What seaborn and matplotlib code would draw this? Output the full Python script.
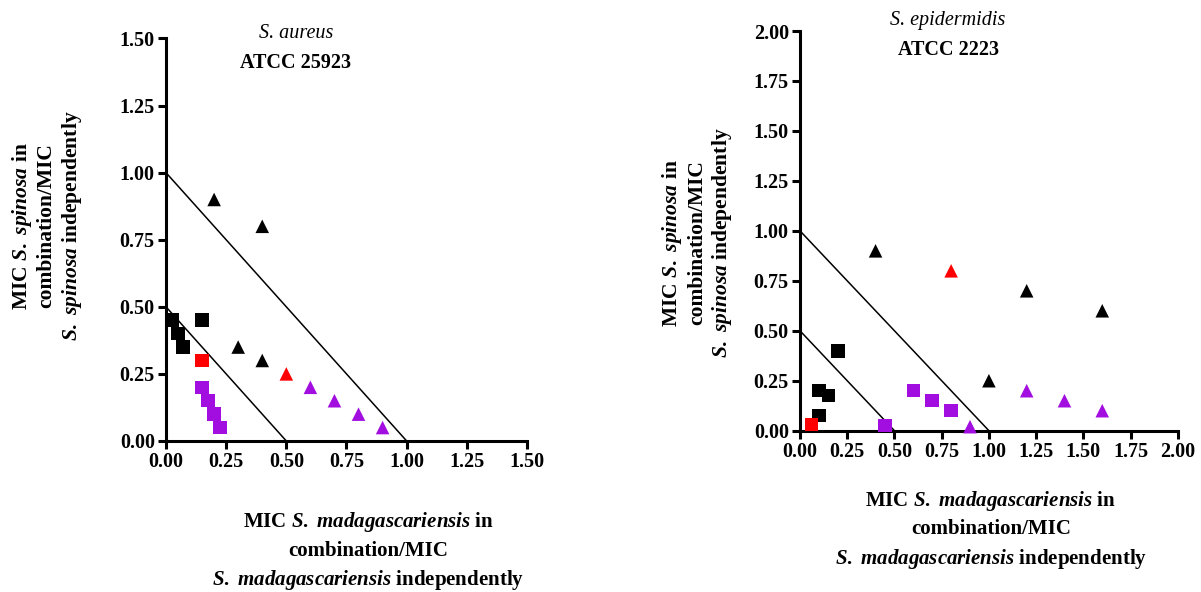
import matplotlib
matplotlib.use("Agg")
import matplotlib.pyplot as plt
import seaborn as sns
import pandas as pd

# ---------------- data ----------------
# S. aureus ATCC 25923
a_x = [0.20, 0.40, 0.30, 0.40, 0.50, 0.60, 0.70, 0.80, 0.90,
       0.025, 0.05, 0.07, 0.15, 0.15, 0.15, 0.175, 0.20, 0.225]
a_y = [0.90, 0.80, 0.35, 0.30, 0.25, 0.20, 0.15, 0.10, 0.05,
       0.45, 0.40, 0.35, 0.45, 0.30, 0.20, 0.15, 0.10, 0.05]
a_group = ["black", "black", "black", "black", "red", "purple", "purple", "purple", "purple",
           "black", "black", "black", "black", "red", "purple", "purple", "purple", "purple"]
a_shape = ["triangle"] * 9 + ["square"] * 9

# S. epidermidis ATCC 2223
e_x = [0.40, 1.20, 1.60, 1.00, 0.80, 1.20, 1.40, 1.60, 0.90,
       0.20, 0.10, 0.15, 0.10, 0.06, 0.60, 0.70, 0.80, 0.45]
e_y = [0.90, 0.70, 0.60, 0.25, 0.80, 0.20, 0.15, 0.10, 0.02,
       0.40, 0.20, 0.175, 0.075, 0.03, 0.20, 0.15, 0.10, 0.025]
e_group = ["black", "black", "black", "black", "red", "purple", "purple", "purple", "purple",
           "black", "black", "black", "black", "red", "purple", "purple", "purple", "purple"]
e_shape = ["triangle"] * 9 + ["square"] * 9

# isobologram reference lines
line1_x = [0.0, 1.0]
line1_y = [1.0, 0.0]
line2_x = [0.0, 0.5]
line2_y = [0.5, 0.0]

a_ticks = [0.00, 0.25, 0.50, 0.75, 1.00, 1.25, 1.50]
e_ticks = [0.00, 0.25, 0.50, 0.75, 1.00, 1.25, 1.50, 1.75, 2.00]

# ---------------- style ----------------
sns.set_style("ticks")
plt.rcParams["font.family"] = ["Liberation Serif", "DejaVu Serif"]
plt.rcParams["font.weight"] = "bold"
plt.rcParams["mathtext.fontset"] = "custom"
plt.rcParams["mathtext.rm"] = "Liberation Serif:bold"
plt.rcParams["mathtext.bf"] = "Liberation Serif:bold"
plt.rcParams["mathtext.it"] = "Liberation Serif:italic"
for k in ["text.color", "axes.labelcolor", "xtick.color", "ytick.color",
          "axes.edgecolor"]:
    plt.rcParams[k] = "black"

palette = {"black": "#000000", "red": "#ff0000", "purple": "#a20ee0"}
markers = {"square": "s", "triangle": "^"}

fig = plt.figure(figsize=(12.01, 5.92), dpi=100)
ax1 = fig.add_axes([0.1382, 0.2551, 0.3006, 0.6799])
ax2 = fig.add_axes([0.6661, 0.2725, 0.3146, 0.6751])

xlab = ("MIC $\\mathit{S.\\ madagascariensis}$ in\ncombination/MIC\n"
        "$\\mathit{S.\\ madagascariensis}$ independently")
ylab = ("MIC $\\mathit{S.\\ spinosa}$ in\ncombination/MIC\n"
        "$\\mathit{S.\\ spinosa}$ independently")


def draw(ax, xs, ys, grp, shp, ticks, lim, title1, title2, tpos, xlpos, ylpos):
    df = pd.DataFrame({"x": xs, "y": ys, "group": grp, "shape": shp})
    ax.plot(line1_x, line1_y, color="black", lw=1.1, zorder=2)
    ax.plot(line2_x, line2_y, color="black", lw=1.1, zorder=2)
    sns.scatterplot(data=df, x="x", y="y", hue="group", style="shape",
                    palette=palette, markers=markers, s=95, linewidth=0,
                    legend=False, ax=ax, clip_on=False, zorder=3)
    ax.set_xlim(0, lim)
    ax.set_ylim(0, lim)
    ax.set_xticks(ticks)
    ax.set_yticks(ticks)
    ax.set_xticklabels([f"{t:.2f}" for t in ticks], fontsize=14.5, fontweight="bold")
    ax.set_yticklabels([f"{t:.2f}" for t in ticks], fontsize=14.5, fontweight="bold")
    for side in ["top", "right"]:
        ax.spines[side].set_visible(False)
    for side in ["left", "bottom"]:
        ax.spines[side].set_linewidth(2.2)
        ax.spines[side].set_color("black")
    ax.tick_params(axis="both", direction="out", length=6, width=2.2, pad=2,
                   colors="black")
    ax.set_xlabel("")
    ax.set_ylabel("")
    ax.text(xlpos[0], xlpos[1], xlab, transform=ax.transAxes, ha="center",
            va="center", fontsize=15, fontweight="bold", linespacing=1.45)
    ax.text(ylpos[0], ylpos[1], ylab, transform=ax.transAxes, ha="center",
            va="center", rotation=90, fontsize=15.5, fontweight="bold",
            linespacing=1.2)
    ax.text(tpos[0], tpos[1], title1, transform=ax.transAxes, ha="center",
            va="center", fontsize=14.5, fontstyle="italic", fontweight="normal")
    ax.text(tpos[0], tpos[2], title2, transform=ax.transAxes, ha="center",
            va="center", fontsize=14.5, fontweight="bold")


draw(ax1, a_x, a_y, a_group, a_shape, a_ticks, 1.5, "S. aureus", "ATCC 25923",
     (0.36, 1.012, 0.938), (0.56, -0.274), (-0.33, 0.534))
draw(ax2, e_x, e_y, e_group, e_shape, e_ticks, 2.0, "S. epidermidis", "ATCC 2223",
     (0.392, 1.027, 0.952), (0.505, -0.248), (-0.272, 0.47))

fig.savefig("out.png", dpi=100)
